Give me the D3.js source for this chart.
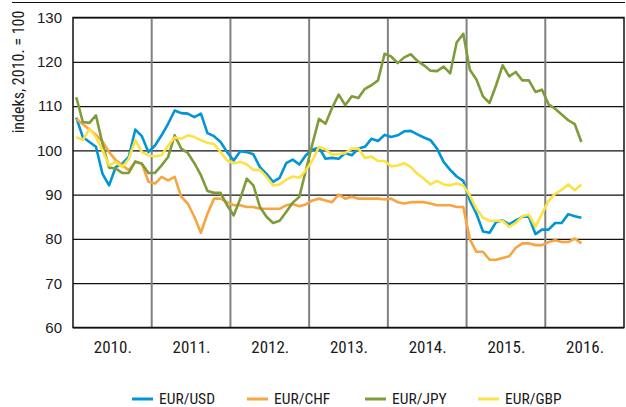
<!DOCTYPE html>
<html>
<head>
<meta charset="utf-8">
<script src="https://cdn.jsdelivr.net/npm/d3@7/dist/d3.min.js"></script>
<style>
  html, body { margin: 0; padding: 0; background: #fff; }
  svg { display: block; }
  text { font-family: "Liberation Sans Narrow", "Arial Narrow", "Roboto Condensed", "Liberation Sans", sans-serif; fill: #1a1a1a; }
</style>
</head>
<body>
<svg id="chart" width="626" height="407"></svg>
<script>
const years = ["2010.", "2011.", "2012.", "2013.", "2014.", "2015.", "2016."];
const yTicks = [60, 70, 80, 90, 100, 110, 120, 130];
const seriesNames = ["EUR/USD", "EUR/CHF", "EUR/JPY", "EUR/GBP"];
const seriesColors = ["#0096d6", "#f7a541", "#7f9c3a", "#fde245"];

// monthly values, Jan 2010 .. Jun 2016
const eurUsd = [107.4, 103.0, 101.9, 100.8, 94.7, 92.1, 96.2, 97.0, 98.5, 104.7, 103.2, 99.6,
  101.1, 103.4, 106.0, 109.0, 108.4, 108.3, 107.5, 108.3, 103.9, 103.2, 101.9, 99.6,
  97.7, 99.8, 99.6, 99.1, 96.2, 94.7, 92.9, 93.8, 97.1, 97.9, 96.8, 98.9,
  100.2, 100.6, 98.1, 98.3, 98.1, 99.4, 98.9, 100.4, 100.8, 102.6, 102.1, 103.5,
  103.0, 103.4, 104.3, 104.4, 103.6, 102.9, 102.3, 100.4, 97.4, 95.6, 94.1, 93.1,
  88.7, 85.7, 81.7, 81.4, 83.8, 84.2, 83.3, 84.2, 85.0, 85.0, 81.1, 82.1,
  82.1, 83.6, 83.6, 85.6, 85.1, 84.8];
const eurChf = [107.1, 105.9, 104.7, 103.5, 102.0, 99.6, 97.8, 96.7, 95.5, 97.4, 97.0, 92.9,
  92.5, 94.0, 93.2, 94.0, 89.5, 88.0, 85.0, 81.4, 85.7, 89.1, 89.1, 88.3,
  87.6, 87.6, 87.2, 87.2, 86.8, 86.8, 86.8, 86.8, 87.6, 87.9, 87.4, 87.8,
  88.7, 89.1, 88.7, 88.3, 90.0, 89.1, 89.5, 89.1, 89.1, 89.1, 89.1, 88.9,
  89.1, 88.3, 88.0, 88.3, 88.3, 88.3, 88.0, 87.6, 87.6, 87.6, 87.2, 87.2,
  79.9, 77.1, 77.1, 75.3, 75.3, 75.7, 76.1, 78.0, 79.0, 79.0, 78.6, 78.6,
  79.3, 79.7, 79.3, 79.3, 80.1, 79.0];
const eurJpy = [112.0, 106.4, 106.2, 107.9, 101.5, 96.1, 95.9, 94.9, 94.9, 97.5, 97.0, 94.9,
  94.9, 96.6, 98.5, 103.4, 100.4, 99.4, 97.1, 94.4, 90.8, 90.4, 90.4, 87.6,
  85.3, 89.1, 93.6, 92.1, 87.2, 85.0, 83.6, 84.1, 86.1, 88.2, 89.5, 95.5,
  101.5, 107.1, 106.0, 109.6, 112.6, 110.2, 112.2, 111.8, 113.9, 114.7, 115.8, 121.8,
  121.2, 119.7, 121.0, 121.7, 120.2, 119.2, 118.0, 117.9, 118.9, 117.4, 124.4, 126.3,
  118.2, 116.0, 112.2, 110.7, 114.7, 119.2, 116.7, 117.7, 115.8, 115.8, 113.2, 113.7,
  110.4, 109.4, 108.1, 106.8, 105.9, 101.9];
const eurGbp = [103.0, 102.3, 104.9, 103.0, 100.0, 96.6, 97.4, 96.2, 98.1, 102.3, 99.6, 98.9,
  98.6, 98.9, 101.1, 102.9, 102.6, 103.4, 103.0, 102.3, 101.7, 101.4, 99.6, 97.7,
  97.1, 97.4, 96.8, 95.6, 95.6, 94.0, 92.1, 92.3, 93.4, 94.1, 93.8, 95.5,
  97.7, 100.8, 100.2, 99.1, 99.1, 99.4, 100.4, 100.4, 98.3, 98.6, 97.6, 97.6,
  96.4, 96.6, 97.1, 96.2, 94.7, 93.6, 92.3, 93.1, 92.3, 92.1, 92.5, 92.1,
  89.8, 86.8, 84.8, 84.1, 84.1, 84.1, 82.7, 83.6, 85.1, 85.5, 82.7, 85.7,
  88.6, 90.2, 91.1, 92.3, 91.0, 92.3];

const seriesValues = [eurUsd, eurChf, eurJpy, eurGbp];

const svg = d3.select("#chart");
const plotLeft = 73, plotRight = 624, plotTop = 17.5, plotBottom = 327.5;

const x = d3.scaleLinear().domain([0, years.length * 12]).range([plotLeft, plotRight]);
const y = d3.scaleLinear().domain([60, 130]).range([plotBottom, plotTop]);

// top rule
svg.append("line").attr("x1", 12).attr("x2", 625).attr("y1", 2.5).attr("y2", 2.5)
  .attr("stroke", "#111").attr("stroke-width", 1);

// horizontal gridlines + y labels
const yAxis = d3.axisLeft(y).tickValues(yTicks).tickSize(-(plotRight - plotLeft)).tickPadding(11).tickFormat(d3.format("d"));
const gy = svg.append("g").attr("transform", `translate(${plotLeft},0)`).call(yAxis);
gy.select(".domain").remove();
gy.selectAll(".tick line").attr("stroke", "#111").attr("stroke-width", 1.2);
gy.selectAll(".tick text").attr("fill", "#1a1a1a")
  .style("font-family", '"Liberation Sans", Arial, sans-serif').attr("font-size", 15);

// vertical year separators
const seps = d3.range(1, years.length).map(i => i * 12);
svg.append("g").selectAll("line").data(seps).join("line")
  .attr("x1", d => x(d)).attr("x2", d => x(d))
  .attr("y1", plotTop).attr("y2", plotBottom)
  .attr("stroke", "#808080").attr("stroke-width", 2);

// x axis labels
const xAxis = d3.axisBottom(x).tickValues(years.map((_, i) => i * 12 + 6))
  .tickSize(0).tickPadding(13).tickFormat((d, i) => years[i]);
const gx = svg.append("g").attr("transform", `translate(0,${plotBottom})`).call(xAxis);
gx.select(".domain").remove();
gx.selectAll(".tick text").attr("font-size", 17).attr("fill", "#1a1a1a");

// frame
svg.append("rect").attr("x", plotLeft).attr("y", plotTop).attr("width", plotRight - plotLeft).attr("height", plotBottom - plotTop)
  .attr("fill", "none").attr("stroke", "#111").attr("stroke-width", 1.5);

// lines
const line = d3.line().x((d, i) => x(i + 0.5)).y(d => y(d));
svg.append("g").selectAll("path").data(seriesValues).join("path")
  .attr("d", d => line(d))
  .attr("fill", "none")
  .attr("stroke", (d, i) => seriesColors[i])
  .attr("stroke-width", 2.6)
  .attr("stroke-linejoin", "round");

// y title
svg.append("text").attr("transform", "translate(24,72) rotate(-90)")
  .attr("text-anchor", "middle").attr("font-size", 16).text("indeks, 2010. = 100");

// legend
const legendX = [132, 247, 365, 478];
const lg = svg.append("g").selectAll("g").data(seriesNames).join("g")
  .attr("transform", (d, i) => `translate(${legendX[i]},399)`);
lg.append("line").attr("x1", 0).attr("x2", 21).attr("y1", 0).attr("y2", 0)
  .attr("stroke", (d, i) => seriesColors[i]).attr("stroke-width", 3);
lg.append("text").attr("x", 27).attr("y", 5).attr("font-size", 15.5).text(d => d);
</script>
</body>
</html>
